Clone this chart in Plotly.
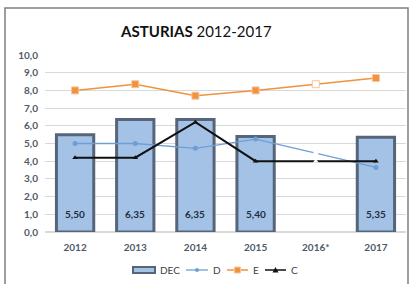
import plotly.graph_objects as go

years = ["2012", "2013", "2014", "2015", "2016*", "2017"]
dec = [5.50, 6.35, 6.35, 5.40, None, 5.35]
dec_labels = ["5,50", "6,35", "6,35", "5,40", "", "5,35"]
d_vals = [5.0, 5.0, 4.73, 5.25, 4.45, 3.65]
e_vals = [8.0, 8.35, 7.7, 8.0, 8.35, 8.7]
c_vals = [4.2, 4.2, 6.2, 4.0, 4.0, 4.0]
y_ticks = [0, 1, 2, 3, 4, 5, 6, 7, 8, 9, 10]
y_tick_text = ["0,0", "1,0", "2,0", "3,0", "4,0", "5,0", "6,0", "7,0", "8,0", "9,0", "10,0"]

FONT = "Lato, Open Sans, sans-serif"
W, H = 417, 284
ML, MR, MT, MB = 45, 11, 55, 52
PW, PH = W - ML - MR, H - MT - MB

C_BAR, C_BAR_LINE = "#A3C2E6", "#56657A"
C_D, C_E, C_C = "#6E9ED6", "#F0923E", "#111111"


def px(x):
    return (x - ML) / PW


def py(y):
    return (H - MB - y) / PH


def mcolors(base):
    return [("white" if y == "2016*" else base) for y in years]


fig = go.Figure()
fig.add_trace(go.Bar(
    x=years, y=dec, name="DEC", width=0.62,
    marker=dict(color=C_BAR, line=dict(color=C_BAR_LINE, width=3)),
))
fig.add_trace(go.Scatter(
    x=years, y=d_vals, name="D", mode="lines+markers",
    line=dict(color=C_D, width=1.3),
    marker=dict(size=5, color=mcolors(C_D), line=dict(width=0)),
))
fig.add_trace(go.Scatter(
    x=years, y=e_vals, name="E", mode="lines+markers",
    line=dict(color=C_E, width=1.5),
    marker=dict(size=7, symbol="square", color=mcolors(C_E),
                line=dict(color="#F6C59A", width=1)),
))
fig.add_trace(go.Scatter(
    x=years, y=c_vals, name="C", mode="lines+markers",
    line=dict(color=C_C, width=2),
    marker=dict(size=5, symbol="triangle-up", color=mcolors(C_C), line=dict(width=0)),
))

annotations = []
for i, lab in enumerate(dec_labels):
    if lab:
        annotations.append(dict(
            x=i, y=0, xref="x", yref="y", text=lab, showarrow=False,
            yanchor="middle", yshift=18,
            font=dict(family=FONT, size=10, color="#1F2D3D", weight="bold")))

# legend (drawn as decoration)
LY = 270
shapes = [dict(type="rect", xref="paper", yref="paper",
               x0=px(5), x1=px(408), y0=py(292), y1=py(8),
               line=dict(color="#7F7F7F", width=1.5), layer="below")]
shapes.append(dict(type="rect", xref="paper", yref="paper",
                   x0=px(133), x1=px(155), y0=py(273), y1=py(267),
                   fillcolor=C_BAR, line=dict(color=C_BAR_LINE, width=2)))
leg_items = [("DEC", 158)]
for name, x0, x1, col, lw in [("D", 186, 208, C_D, 1.3), ("E", 227, 248, C_E, 1.5),
                              ("C", 265, 286, C_C, 1.5)]:
    shapes.append(dict(type="line", xref="paper", yref="paper",
                       x0=px(x0), x1=px(x1), y0=py(LY), y1=py(LY),
                       line=dict(color=col, width=lw)))
    cx = (x0 + x1) / 2
    if name == "D":
        shapes.append(dict(type="circle", xref="paper", yref="paper",
                           x0=px(cx - 2), x1=px(cx + 2), y0=py(LY + 2), y1=py(LY - 2),
                           fillcolor=col, line=dict(width=0)))
    elif name == "E":
        shapes.append(dict(type="rect", xref="paper", yref="paper",
                           x0=px(cx - 3), x1=px(cx + 3), y0=py(LY + 3), y1=py(LY - 3),
                           fillcolor=col, line=dict(color="#F6C59A", width=1)))
    else:
        shapes.append(dict(type="path", xref="paper", yref="paper",
                           path="M {} {} L {} {} L {} {} Z".format(
                               px(cx - 3), py(LY + 2.5), px(cx + 3), py(LY + 2.5),
                               px(cx), py(LY - 3)),
                           fillcolor=col, line=dict(width=0)))
    leg_items.append((name, x1 + 3))

for name, x in leg_items:
    annotations.append(dict(
        x=px(x), y=py(LY), xref="paper", yref="paper", text=name, showarrow=False,
        xanchor="left", yanchor="middle",
        font=dict(family=FONT, size=10, color="#404040")))

fig.update_layout(
    width=W, height=H,
    margin=dict(l=ML, r=MR, t=MT, b=MB, autoexpand=False),
    paper_bgcolor="white", plot_bgcolor="white",
    font=dict(family=FONT, color="#505A66", size=10),
    title=dict(text="<b>ASTURIAS</b> 2012-2017", x=px(215), xanchor="center",
               yref="container", y=1 - 32 / H, yanchor="middle",
               font=dict(family=FONT, size=15, color="#111111")),
    showlegend=False,
    bargap=0.38,
    shapes=shapes,
    annotations=annotations,
)
fig.update_xaxes(type="category", categoryorder="array", categoryarray=years,
                 range=[-0.5, len(years) - 0.5],
                 showgrid=False, showline=False, ticks="outside", ticklen=6,
                 tickcolor="rgba(0,0,0,0)",
                 tickfont=dict(family=FONT, size=10, color="#505A66", weight="bold"))
fig.update_yaxes(range=[0, 10], tickvals=y_ticks, ticktext=y_tick_text,
                 showgrid=True, gridcolor="#D9D9D9", gridwidth=1, zeroline=True,
                 zerolinecolor="#D9D9D9", showline=False, ticks="outside", ticklen=4,
                 tickcolor="rgba(0,0,0,0)",
                 tickfont=dict(family=FONT, size=10, color="#505A66", weight="bold"))

fig.write_html("out.html", config={"displayModeBar": False},
               post_script="document.body.style.margin='0';")
